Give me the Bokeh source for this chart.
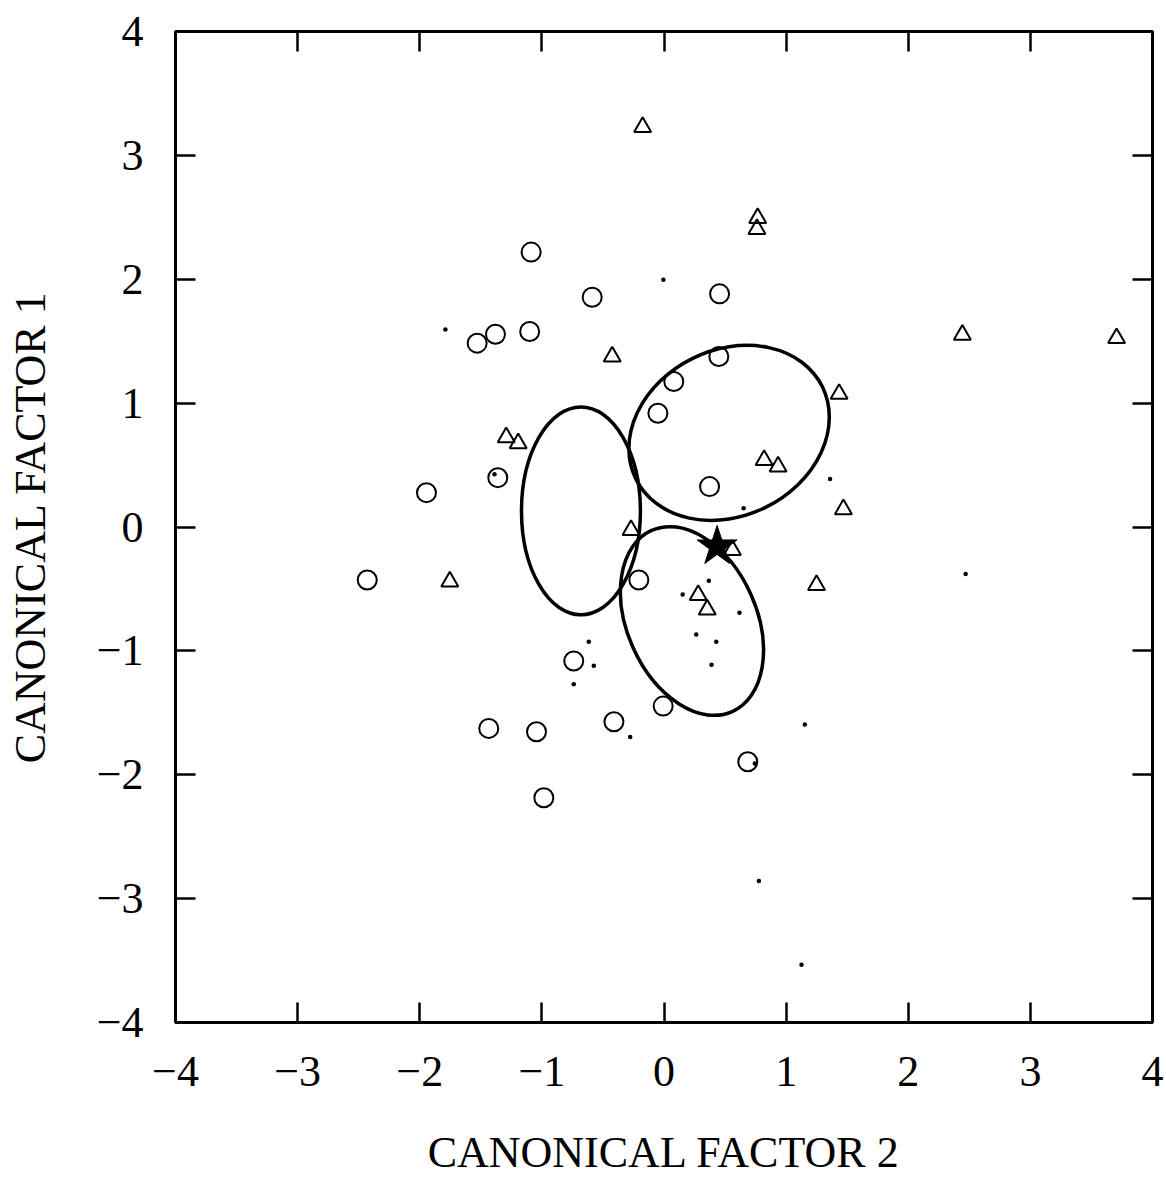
from bokeh.plotting import figure
from bokeh.models import LinearAxis, FixedTicker, Range1d
from bokeh.embed import file_html
from bokeh.resources import INLINE

# ---- data ----
tick_values = [-4, -3, -2, -1, 0, 1, 2, 3, 4]
tick_labels = ["\u22124", "\u22123", "\u22122", "\u22121", "0", "1", "2", "3", "4"]

circle_x = [-1.088, -0.588, 0.455, -1.38, -1.53, -1.10, 0.449, 0.08, -0.05, 0.373,
            -1.361, -1.945, -2.43, -0.206, -0.739, -0.41, -0.007, -1.435, -1.044, -0.984, 0.686]
circle_y = [2.219, 1.855, 1.882, 1.556, 1.484, 1.578, 1.376, 1.174, 0.918, 0.326,
            0.398, 0.277, -0.428, -0.428, -1.082, -1.572, -1.446, -1.626, -1.653, -2.186, -1.895]

tri_x = [-0.175, 0.767, 0.761, -0.424, 1.434, -1.292, -1.194, 0.82, 0.934, 1.469,
         2.443, 3.706, -1.754, -0.27, 0.56, 0.28, 0.354, 1.249]
tri_y = [3.228, 2.494, 2.405, 1.376, 1.074, 0.724, 0.676, 0.541, 0.487, 0.143,
         1.551, 1.524, -0.44, -0.025, -0.186, -0.55, -0.667, -0.468]

dot_x = [-1.79, -0.005, -1.388, 0.652, 1.36, 2.47, 0.367, 0.153, 0.618, 0.264,
         0.428, 0.389, -0.616, -0.575, -0.739, -0.277, 1.153, 0.744, 0.777, 1.126]
dot_y = [1.594, 1.995, 0.426, 0.151, 0.388, -0.38, -0.434, -0.544, -0.692, -0.868,
         -0.927, -1.112, -0.926, -1.12, -1.27, -1.695, -1.594, -1.91, -2.857, -3.534]

star_x = [0.435]
star_y = [-0.157]

ell_x = [-0.68, 0.533, 0.229]
ell_y = [0.13, 0.76, -0.759]
ell_w = [0.974, 1.704, 1.624]
ell_h = [1.68, 1.34, 1.044]
ell_angle = [0.0, 0.461, -1.152]

FONT = "Liberation Serif"

p = figure(width=1166, height=1180, x_range=Range1d(-4, 4), y_range=Range1d(-4, 4),
           output_backend="svg", toolbar_location=None,
           min_border_left=175, min_border_right=14, min_border_top=31, min_border_bottom=158)
p.grid.visible = False
p.outline_line_color = "black"
p.outline_line_width = 3
p.background_fill_color = "white"
p.border_fill_color = "white"

ticker = FixedTicker(ticks=tick_values)
overrides = {v: s for v, s in zip(tick_values, tick_labels)}

def style(ax, labels=True):
    ax.ticker = ticker
    ax.axis_line_color = "black"
    ax.axis_line_width = 3
    ax.major_tick_line_color = "black"
    ax.major_tick_line_width = 2.5
    ax.major_tick_in = 20
    ax.major_tick_out = 0
    ax.minor_tick_line_color = None
    if labels:
        ax.major_label_overrides = overrides
        ax.major_label_text_font = FONT
        ax.major_label_text_font_size = "44px"
        ax.major_label_text_color = "black"
        ax.axis_label_text_font = FONT
        ax.axis_label_text_font_size = "44px"
        ax.axis_label_text_font_style = "normal"
        ax.axis_label_text_color = "black"
    else:
        ax.major_label_text_color = None
        ax.major_label_text_font_size = "1px"
        ax.major_label_standoff = 0

style(p.xaxis[0])
style(p.yaxis[0])
p.xaxis[0].axis_label = "CANONICAL FACTOR 2"
p.yaxis[0].axis_label = "CANONICAL FACTOR 1"
p.xaxis[0].major_label_standoff = 34
p.yaxis[0].major_label_standoff = 32
p.xaxis[0].axis_label_standoff = 39
p.yaxis[0].axis_label_standoff = 39

top = LinearAxis()
style(top, labels=False)
p.add_layout(top, "above")
right = LinearAxis()
style(right, labels=False)
p.add_layout(right, "right")

p.ellipse(x=ell_x, y=ell_y, width=ell_w, height=ell_h, angle=ell_angle,
          fill_color=None, line_color="black", line_width=3.5)

p.scatter(x=circle_x, y=circle_y, marker="circle", size=19, fill_color=None,
          line_color="black", line_width=2)
p.scatter(x=tri_x, y=tri_y, marker="triangle", size=17, fill_color=None,
          line_color="black", line_width=2)
p.scatter(x=dot_x, y=dot_y, marker="circle", size=4.5, fill_color="black",
          line_color="black", line_width=0)
p.scatter(x=star_x, y=star_y, marker="star", size=42, fill_color="black",
          line_color="black", line_width=1)

open("out.html", "w").write(file_html(p, INLINE))
